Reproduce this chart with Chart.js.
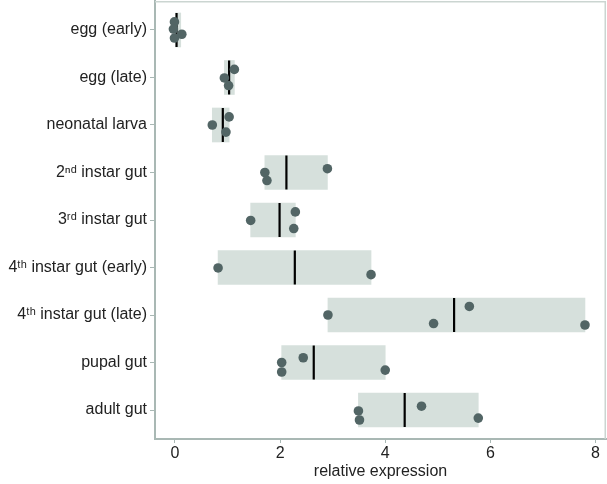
<!DOCTYPE html>
<html>
<head>
<meta charset="utf-8">
<script src="https://cdn.jsdelivr.net/npm/chart.js@4/dist/chart.umd.min.js"></script>
<style>
  html, body { margin: 0; padding: 0; background: #fff; }
  #box { width: 607px; height: 484px; }
</style>
</head>
<body>
<div id="box"><canvas id="grafico"></canvas></div>
<script>
const categorias = ['egg (early)', 'egg (late)', 'neonatal larva', '2ⁿᵈ instar gut', '3ʳᵈ instar gut',
    '4ᵗʰ instar gut (early)', '4ᵗʰ instar gut (late)', 'pupal gut', 'adult gut'];
const minimos = [0.0, 0.94, 0.71, 1.71, 1.44, 0.82, 2.91, 2.03, 3.49];
const maximos = [0.11, 1.13, 1.03, 2.90, 2.29, 3.73, 7.80, 4.00, 5.77];
const medias = [0.03, 1.03, 0.91, 2.12, 1.99, 2.28, 5.31, 2.64, 4.37];
const amostras = [
    [-0.01, -0.03, 0.13, -0.01],
    [1.13, 0.94, 1.02],
    [1.03, 0.71, 0.97],
    [1.71, 1.75, 2.90],
    [1.44, 2.29, 2.26],
    [0.82, 3.73],
    [2.91, 4.92, 5.60, 7.80],
    [2.03, 2.03, 2.44, 4.00],
    [3.49, 3.51, 4.69, 5.77]
];
// vertical jitter of each point inside its row (row units)
const jitter = [
    [-0.17, -0.02, 0.09, 0.17],
    [-0.17, 0.01, 0.17],
    [-0.17, 0.0, 0.15],
    [0.0, 0.17, -0.08],
    [0.01, -0.17, 0.18],
    [0.01, 0.15],
    [0.0, 0.18, -0.18, 0.21],
    [0.0, 0.2, -0.1, 0.16],
    [0.02, 0.21, -0.08, 0.17]
];
const xTicks = [0, 2, 4, 6, 8];

const faixas = categorias.map((c, i) => ({ x: [minimos[i], maximos[i]], y: i }));
const linhasMedia = categorias.map((c, i) => ({ x: medias[i], y: i }));
const pontos = [];
amostras.forEach((arr, i) => arr.forEach((v, j) => pontos.push({ x: v, y: i + jitter[i][j] })));

const moldura = {
    id: 'moldura',
    beforeDatasetsDraw(chart) {
        const { ctx, chartArea: a } = chart;
        ctx.save();
        ctx.strokeStyle = '#cbd5d1';
        ctx.lineWidth = 1.5;
        ctx.beginPath();
        ctx.moveTo(a.left, a.top + 0.75);
        ctx.lineTo(a.right - 0.75, a.top + 0.75);
        ctx.lineTo(a.right - 0.75, a.bottom);
        ctx.stroke();
        ctx.restore();
    }
};

const fonte = { family: '"Liberation Sans", Arial, sans-serif', size: 16 };

new Chart(document.getElementById('grafico'), {
    type: 'bar',
    data: {
        datasets: [
            { type: 'scatter', data: pontos, backgroundColor: '#526565', borderWidth: 0,
              pointRadius: 4.8, pointHoverRadius: 4.8, order: 1 },
            { type: 'scatter', data: linhasMedia, pointStyle: 'line', rotation: 90,
              pointRadius: 17, borderColor: '#000', borderWidth: 2.2, order: 2 },
            { type: 'bar', data: faixas, backgroundColor: '#d6e0dc', barThickness: 34,
              borderWidth: 0, order: 3 }
        ]
    },
    plugins: [moldura],
    options: {
        indexAxis: 'y',
        responsive: true,
        maintainAspectRatio: false,
        animation: false,
        layout: { autoPadding: false, padding: { top: 1, right: 1, left: 0, bottom: 0 } },
        plugins: { legend: { display: false }, tooltip: { enabled: false } },
        scales: {
            x: {
                type: 'linear', position: 'bottom', min: -0.38, max: 8.2, offset: false,
                afterBuildTicks: s => { s.ticks = xTicks.map(v => ({ value: v })); },
                afterFit: s => { s.height = 45; s.paddingLeft = 0; s.paddingRight = 0; },
                border: { display: true, color: '#a9b8b4', width: 2 },
                grid: { drawOnChartArea: false, offset: false, tickLength: 4, tickColor: '#a9b8b4' },
                ticks: { color: '#222', font: fonte, padding: 1, maxRotation: 0 },
                title: { display: true, text: 'relative expression', color: '#222', font: fonte,
                         padding: { top: 0, bottom: 3 } }
            },
            y: {
                type: 'linear', position: 'left', reverse: true, min: -0.61, max: 8.61, offset: false,
                afterBuildTicks: s => { s.ticks = categorias.map((c, i) => ({ value: i })); },
                afterFit: s => { s.width = 155; s.paddingTop = 0; s.paddingBottom = 0; },
                border: { display: true, color: '#a9b8b4', width: 2 },
                grid: { drawOnChartArea: false, offset: false, tickLength: 5, tickColor: '#a9b8b4' },
                ticks: { color: '#222', font: fonte, padding: 3, autoSkip: false,
                         callback: v => categorias[v] }
            }
        }
    }
});
</script>
</body>
</html>
